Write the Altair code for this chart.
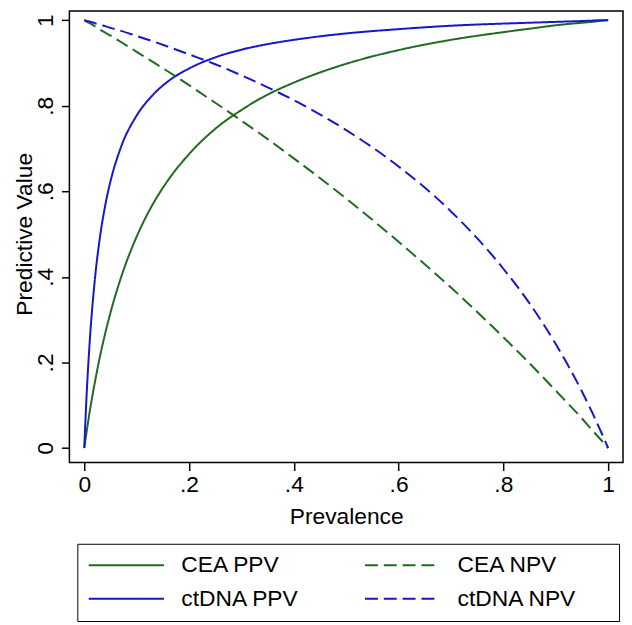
import altair as alt
import pandas as pd

# Values
prevalence = [0, 0.005, 0.01, 0.02, 0.03, 0.04, 0.05, 0.07, 0.1, 0.13, 0.16, 0.2, 0.25,
              0.3, 0.35, 0.4, 0.5, 0.6, 0.7, 0.8, 0.85, 0.9, 0.95, 0.97, 0.99, 1]
cea_ppv = [0, 0.042, 0.082, 0.152, 0.214, 0.268, 0.316, 0.398, 0.494, 0.568, 0.626, 0.687, 0.746,
           0.790, 0.826, 0.854, 0.898, 0.930, 0.954, 0.972, 0.980, 0.988, 0.994, 0.996, 0.999, 1]
ctdna_ppv = [0, 0.136, 0.241, 0.391, 0.493, 0.567, 0.623, 0.703, 0.777, 0.824, 0.857, 0.887, 0.913,
             0.931, 0.944, 0.954, 0.969, 0.979, 0.987, 0.992, 0.994, 0.996, 0.998, 0.999, 1.0, 1]
cea_npv = [1, 0.996, 0.993, 0.986, 0.978, 0.971, 0.964, 0.949, 0.926, 0.903, 0.880, 0.848, 0.807,
           0.765, 0.722, 0.677, 0.583, 0.482, 0.375, 0.259, 0.198, 0.134, 0.069, 0.041, 0.014, 0]
ctdna_npv = [1, 0.998, 0.997, 0.993, 0.989, 0.986, 0.982, 0.975, 0.963, 0.951, 0.938, 0.920, 0.897,
             0.871, 0.843, 0.813, 0.743, 0.658, 0.553, 0.419, 0.338, 0.243, 0.132, 0.082, 0.028, 0]

# legend fills column by column: first column PPV, second column NPV
series_names = ["CEA PPV", "ctDNA PPV", "CEA NPV", "ctDNA NPV"]
series_values = [cea_ppv, ctdna_ppv, cea_npv, ctdna_npv]
tick_values = [0, 0.2, 0.4, 0.6, 0.8, 1]

rows = []
for name, vals in zip(series_names, series_values):
    for p, v in zip(prevalence, vals):
        rows.append({"prevalence": p, "value": v, "series": name})
df = pd.DataFrame(rows)

FONT = "Liberation Sans"
GREEN = "#216b21"
BLUE = "#1616cc"
label_expr = "replace(format(datum.value, '.1~f'), '0.', '.')"
# trailing non-breaking spaces (kept by a final zero-width space) widen the legend box
TRAIL = "\u00a0" * 5 + "\u200b"
legend_label_expr = "indexof(datum.label, 'NPV') >= 0 ? datum.label + '" + TRAIL + "' : datum.label"

legend_spec = dict(
    title=None, orient="none", legendX=8, legendY=538, columns=2,
    columnPadding=62, rowPadding=10, padding=10, symbolType="M-5,0H5",
    symbolSize=231, symbolStrokeWidth=2, symbolOffset=28, labelFont=FONT, labelFontSize=23,
    labelColor="black", labelOffset=44, labelLimit=400, strokeColor="black",
    labelExpr=legend_label_expr,
)

chart = alt.Chart(df).mark_line(strokeWidth=2, interpolate="monotone").encode(
    x=alt.X(
        "prevalence:Q",
        scale=alt.Scale(domain=[-0.02836, 1.02836], nice=False, zero=False),
        axis=alt.Axis(
            values=tick_values, labelExpr=label_expr, title="Prevalence", grid=False,
            domain=False, tickSize=8, tickWidth=1.5, tickColor="black",
            labelFont=FONT, labelFontSize=23, labelColor="black", labelPadding=21,
            labelBaseline="alphabetic", labelAlign="center", labelFlush=False,
            labelOverlap=False, titleFont=FONT, titleFontSize=23, titleFontWeight="normal",
            titleColor="black", titleY=62, titleBaseline="alphabetic",
        ),
    ),
    y=alt.Y(
        "value:Q",
        scale=alt.Scale(domain=[-0.034, 1.0215], nice=False, zero=False),
        axis=alt.Axis(
            values=tick_values, labelExpr=label_expr, title="Predictive Value", grid=False,
            domain=False, tickSize=8, tickWidth=1.5, tickColor="black",
            labelFont=FONT, labelFontSize=23, labelColor="black", labelPadding=9,
            labelAngle=270, labelAlign="center", labelBaseline="alphabetic",
            labelFlush=False, labelOverlap=False,
            titleFont=FONT, titleFontSize=23, titleFontWeight="normal", titleColor="black",
            titleAngle=270, titleX=-38, titleY=225, titleAlign="center",
            titleBaseline="alphabetic",
        ),
    ),
    color=alt.Color(
        "series:N",
        scale=alt.Scale(domain=series_names, range=[GREEN, BLUE, GREEN, BLUE]),
        legend=alt.Legend(**legend_spec),
    ),
    strokeDash=alt.StrokeDash(
        "series:N",
        scale=alt.Scale(domain=series_names, range=[[1, 0], [1, 0], [13, 6], [13, 6]]),
        legend=alt.Legend(**legend_spec),
    ),
    order=alt.Order("prevalence:Q"),
).properties(
    width=559,
    height=456,
    autosize=alt.AutoSizeParams(type="none"),
    padding={"left": 62, "top": 0, "right": 1, "bottom": 159},
    background="white",
).configure_view(stroke="black", strokeWidth=1.5)

chart.save("out.html", embed_options={"renderer": "svg", "actions": False})
